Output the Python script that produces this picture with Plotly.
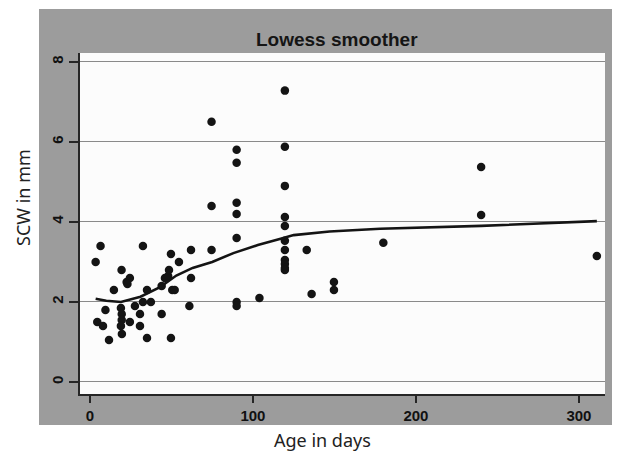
import plotly.graph_objects as go

# Scatter data: age in days vs SCW in mm
age_days = [3.5, 6.5, 4.5, 8, 9.5, 11.7, 14.7, 19.4, 19, 19.5, 19.5, 19, 19.6,
            22.5, 24.5, 23, 24.5, 27.6, 30.7, 30.7, 32.5, 32.5, 35, 35, 37.4,
            44, 44, 46, 48, 48.5, 49.7, 50.5, 52, 49.7, 54.6, 61, 62, 62,
            74.6, 74.6, 74.6, 90, 90, 90, 90, 90, 90, 90, 104,
            119.6, 119.6, 119.6, 119.6, 119.6, 119.6, 119.6, 119.6, 119.6, 119.6, 119.6,
            133, 136, 149.7, 149.7, 180, 240, 240, 311]
scw_mm = [3.0, 3.4, 1.5, 1.4, 1.8, 1.05, 2.3, 2.8, 1.85, 1.7, 1.55, 1.4, 1.2,
          2.5, 2.6, 2.45, 1.5, 1.9, 1.7, 1.4, 3.4, 2.0, 2.3, 1.1, 2.0,
          2.4, 1.7, 2.6, 2.65, 2.8, 3.2, 2.3, 2.3, 1.1, 3.0, 1.9, 2.6, 3.3,
          3.3, 4.4, 6.5, 5.8, 5.48, 4.48, 4.2, 3.6, 2.0, 1.9, 2.1,
          7.28, 5.88, 4.9, 4.12, 3.9, 3.53, 3.3, 3.05, 2.95, 2.85, 2.8,
          3.3, 2.2, 2.5, 2.3, 3.48, 5.37, 4.17, 3.15]

# Lowess smoother curve
lowess_x = [3.5, 10, 19, 31, 43, 53, 63, 75, 88, 103, 117, 125, 147, 178, 240, 311]
lowess_y = [2.08, 2.03, 2.0, 2.13, 2.37, 2.66, 2.85, 3.0, 3.22, 3.42, 3.58, 3.67,
            3.76, 3.83, 3.9, 4.02]

x_ticks = [0, 100, 200, 300]
y_ticks = [0, 2, 4, 6, 8]

W, H = 623, 454
L, R, T, B = 80, 18, 53, 60
pw, ph = W - L - R, H - T - B

def px_x(p):
    return (p - L) / pw

def px_y(p):
    return (H - B - p) / ph

fig = go.Figure()
fig.add_trace(go.Scatter(x=age_days, y=scw_mm, mode="markers",
                         marker=dict(size=8.5, color="#141414"),
                         showlegend=False, hoverinfo="x+y"))
fig.add_trace(go.Scatter(x=lowess_x, y=lowess_y, mode="lines",
                         line=dict(color="#141414", width=2.6),
                         showlegend=False))

shapes = [
    dict(type="rect", xref="paper", yref="paper", layer="below",
         x0=px_x(39), x1=px_x(612), y0=px_y(425), y1=px_y(9),
         fillcolor="#9c9c9c", line=dict(width=0)),
    dict(type="rect", xref="paper", yref="paper", layer="below",
         x0=0, x1=1, y0=0, y1=1, fillcolor="#fcfcfc", line=dict(width=0)),
]

annotations = [
    dict(text="Lowess smoother", xref="paper", yref="paper",
         x=px_x(337), y=px_y(39), xanchor="center", yanchor="middle",
         showarrow=False,
         font=dict(family="Liberation Sans, Arial", size=19, color="#151515", weight="bold")),
    dict(text="Age in days", xref="paper", yref="paper",
         x=px_x(322), y=px_y(440), xanchor="center", yanchor="middle",
         showarrow=False, font=dict(family="Noto Sans", size=18, color="#222222")),
    dict(text="SCW in mm", xref="paper", yref="paper",
         x=px_x(23), y=px_y(198), xanchor="center", yanchor="middle", textangle=-90,
         showarrow=False, font=dict(family="Noto Sans", size=18, color="#222222")),
]

fig.update_layout(
    width=W, height=H,
    margin=dict(l=L, r=R, t=T, b=B, pad=0),
    paper_bgcolor="white",
    plot_bgcolor="rgba(0,0,0,0)",
    shapes=shapes,
    annotations=annotations,
    showlegend=False,
    xaxis=dict(range=[-6.1, 316], tickvals=x_ticks, ticktext=[str(v) for v in x_ticks],
               showgrid=False, zeroline=False, showline=True, linecolor="#262626",
               linewidth=2, ticks="outside", ticklen=7, tickwidth=1.5, tickcolor="#262626",
               tickfont=dict(family="Liberation Sans, Arial", size=15, color="#111111", weight="bold")),
    yaxis=dict(range=[-0.3, 8.22], tickvals=y_ticks, ticktext=[str(v) for v in y_ticks],
               showgrid=True, gridcolor="#8a8a8a", gridwidth=1.2,
               zeroline=False, showline=True, linecolor="#262626",
               linewidth=2, ticks="outside", ticklen=9, tickwidth=1.5, tickcolor="#262626",
               tickangle=-90,
               tickfont=dict(family="Liberation Sans, Arial", size=15, color="#111111", weight="bold")),
)

fig.write_html("out.html", config={"displayModeBar": False},
               post_script="document.body.style.margin='0px';document.body.style.overflow='hidden';")
